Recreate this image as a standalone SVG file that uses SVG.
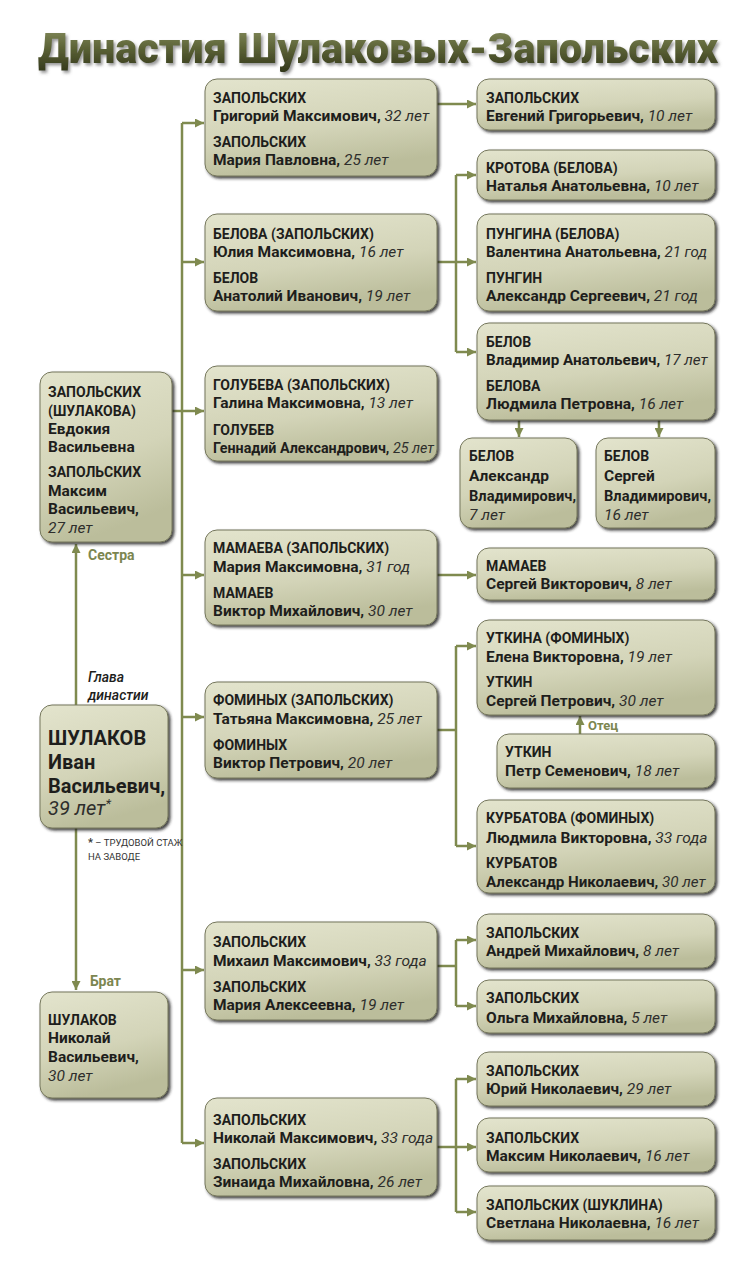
<svg xmlns="http://www.w3.org/2000/svg" width="750" height="1276" viewBox="0 0 750 1276">
<defs>
<linearGradient id="ng" x1="0" y1="0" x2="0.3" y2="1">
<stop offset="0" stop-color="#e3e4cd"/>
<stop offset="0.6" stop-color="#d3d4b8"/>
<stop offset="1" stop-color="#bbbd9b"/>
</linearGradient>
<linearGradient id="tg" x1="0" y1="0" x2="0" y2="1">
<stop offset="0" stop-color="#8d9465"/>
<stop offset="0.5" stop-color="#5b6236"/>
<stop offset="1" stop-color="#2f3418"/>
</linearGradient>
<filter id="sh" x="-10%" y="-10%" width="125%" height="130%">
<feDropShadow dx="2" dy="2" stdDeviation="1.6" flood-color="#23231a" flood-opacity="0.85"/>
</filter>
<filter id="tsh" x="-5%" y="-20%" width="110%" height="150%">
<feDropShadow dx="2" dy="2" stdDeviation="1.5" flood-color="#555" flood-opacity="0.6"/>
</filter>
<marker id="arr" viewBox="0 0 10 10" refX="10" refY="5" markerWidth="11" markerHeight="9" orient="auto" markerUnits="userSpaceOnUse">
<path d="M0,0 L10,5 L0,10 z" fill="#7f8a4f"/>
</marker>
<style>
.box{fill:url(#ng);stroke:#75775c;stroke-width:1;filter:url(#sh)}
.t{font-family:Roboto,"Noto Sans",sans-serif;font-size:15.5px;font-weight:700;fill:#1e1e1c}
.u{font-size:14px}
.b{font-size:20px}
.a{font-style:italic;font-weight:400;fill:#2e2e2c}
.c{fill:none;stroke:#7f8a4f;stroke-width:2.5}
.ca{fill:none;stroke:#7f8a4f;stroke-width:2.5;marker-end:url(#arr)}
.lb{font-family:Roboto,"Noto Sans",sans-serif;font-size:14px;font-weight:700;fill:#7c8650}
.gl{font-family:Roboto,"Noto Sans",sans-serif;font-size:14px;font-weight:500;font-style:italic;fill:#1e1e1c}
.fn{font-family:Roboto,"Noto Sans",sans-serif;font-size:9.5px;fill:#333}
</style>
</defs>
<rect width="750" height="1276" fill="#ffffff"/>
<text transform="translate(378,63) scale(1,1.2)" x="0" y="0" text-anchor="middle" font-family="Roboto,'Noto Sans',sans-serif" font-size="36" font-weight="900" fill="url(#tg)" filter="url(#tsh)" textLength="680" lengthAdjust="spacingAndGlyphs">Династия Шулаковых-Запольских</text>

<g id="connectors">
<path class="c" d="M182,123 V1143"/>
<path class="ca" d="M182,123 H204"/>
<path class="ca" d="M182,262 H204"/>
<path class="ca" d="M172,411 H204"/>
<path class="ca" d="M182,575 H204"/>
<path class="ca" d="M182,717 H204"/>
<path class="ca" d="M182,970 H204"/>
<path class="ca" d="M182,1143 H204"/>
<path class="ca" d="M76,705 V544"/>
<path class="ca" d="M76,828 V990"/>
<path class="ca" d="M437,104 H476"/>
<path class="c" d="M437,262 H456 M456,175 V352"/>
<path class="ca" d="M456,175 H476"/>
<path class="ca" d="M456,262 H476"/>
<path class="ca" d="M456,352 H476"/>
<path class="ca" d="M519,420 V437"/>
<path class="ca" d="M659,420 V437"/>
<path class="ca" d="M437,575 H476"/>
<path class="c" d="M437,730 H456 M456,646 V846"/>
<path class="ca" d="M456,646 H476"/>
<path class="ca" d="M456,846 H476"/>
<path class="ca" d="M580,734 V716"/>
<path class="c" d="M437,966 H456 M456,940 V1006"/>
<path class="ca" d="M456,940 H476"/>
<path class="ca" d="M456,1006 H476"/>
<path class="c" d="M437,1147 H456 M456,1079 V1212"/>
<path class="ca" d="M456,1079 H476"/>
<path class="ca" d="M456,1147 H476"/>
<path class="ca" d="M456,1212 H476"/>
</g>

<g id="labels">
<text class="lb" x="88" y="560">Сестра</text>
<text class="lb" x="90" y="986">Брат</text>
<text class="lb" x="588" y="730" style="font-size:13px">Отец</text>
<text class="gl" x="88" y="682">Глава</text>
<text class="gl" x="88" y="700">династии</text>
<text class="fn" x="88" y="846"><tspan style="font-weight:700;font-size:11px">*</tspan> – ТРУДОВОЙ СТАЖ</text>
<text class="fn" x="88" y="860">НА ЗАВОДЕ</text>
</g>

<g id="n-evdokia">
<rect class="box" x="40" y="372" width="132" height="170" rx="12"/>
<text class="t u" x="48" y="397">ЗАПОЛЬСКИХ</text>
<text class="t u" x="48" y="416">(ШУЛАКОВА)</text>
<text class="t" x="48" y="434">Евдокия</text>
<text class="t" x="48" y="452">Васильевна</text>
<text class="t u" x="48" y="477">ЗАПОЛЬСКИХ</text>
<text class="t" x="48" y="496">Максим</text>
<text class="t" x="48" y="514">Васильевич,</text>
<text class="t a" x="48" y="533">27 лет</text>
</g>

<g id="n-ivan">
<rect class="box" x="40" y="705" width="128" height="123" rx="12"/>
<text class="t b" x="48" y="745">ШУЛАКОВ</text>
<text class="t b" x="48" y="769">Иван</text>
<text class="t b" x="48" y="793">Васильевич,</text>
<text class="t b a" x="48" y="815">39 лет<tspan dy="-7" style="font-size:13px">*</tspan></text>
</g>

<g id="n-nikolay-sh">
<rect class="box" x="40" y="992" width="128" height="106" rx="12"/>
<text class="t u" x="48" y="1025">ШУЛАКОВ</text>
<text class="t" x="48" y="1043">Николай</text>
<text class="t" x="48" y="1062">Васильевич,</text>
<text class="t a" x="48" y="1081">30 лет</text>
</g>

<g id="n-grigoriy">
<rect class="box" x="205" y="79" width="232" height="97" rx="12"/>
<text class="t u" x="213" y="103">ЗАПОЛЬСКИХ</text>
<text class="t" x="213" y="121">Григорий Максимович, <tspan class="a">32 лет</tspan></text>
<text class="t u" x="213" y="147">ЗАПОЛЬСКИХ</text>
<text class="t" x="213" y="165">Мария Павловна, <tspan class="a">25 лет</tspan></text>
</g>

<g id="n-yulia">
<rect class="box" x="205" y="214" width="232" height="97" rx="12"/>
<text class="t u" x="213" y="239">БЕЛОВА (ЗАПОЛЬСКИХ)</text>
<text class="t" x="213" y="257">Юлия Максимовна, <tspan class="a">16 лет</tspan></text>
<text class="t u" x="213" y="283">БЕЛОВ</text>
<text class="t" x="213" y="301">Анатолий Иванович, <tspan class="a">19 лет</tspan></text>
</g>

<g id="n-galina">
<rect class="box" x="205" y="366" width="232" height="95" rx="12"/>
<text class="t u" x="213" y="390">ГОЛУБЕВА (ЗАПОЛЬСКИХ)</text>
<text class="t" x="213" y="408">Галина Максимовна, <tspan class="a">13 лет</tspan></text>
<text class="t u" x="213" y="435">ГОЛУБЕВ</text>
<text class="t" x="213" y="453" style="font-size:14.3px">Геннадий Александрович, <tspan class="a">25 лет</tspan></text>
</g>

<g id="n-mamaeva">
<rect class="box" x="205" y="530" width="232" height="95" rx="12"/>
<text class="t u" x="213" y="553">МАМАЕВА (ЗАПОЛЬСКИХ)</text>
<text class="t" x="213" y="572">Мария Максимовна, <tspan class="a">31 год</tspan></text>
<text class="t u" x="213" y="598">МАМАЕВ</text>
<text class="t" x="213" y="616">Виктор Михайлович, <tspan class="a">30 лет</tspan></text>
</g>

<g id="n-fominykh">
<rect class="box" x="205" y="682" width="232" height="96" rx="12"/>
<text class="t u" x="213" y="705">ФОМИНЫХ (ЗАПОЛЬСКИХ)</text>
<text class="t" x="213" y="724">Татьяна Максимовна, <tspan class="a">25 лет</tspan></text>
<text class="t u" x="213" y="750">ФОМИНЫХ</text>
<text class="t" x="213" y="768">Виктор Петрович, <tspan class="a">20 лет</tspan></text>
</g>

<g id="n-mikhail">
<rect class="box" x="205" y="922" width="232" height="98" rx="12"/>
<text class="t u" x="213" y="947">ЗАПОЛЬСКИХ</text>
<text class="t" x="213" y="966">Михаил Максимович, <tspan class="a">33 года</tspan></text>
<text class="t u" x="213" y="992">ЗАПОЛЬСКИХ</text>
<text class="t" x="213" y="1010">Мария Алексеевна, <tspan class="a">19 лет</tspan></text>
</g>

<g id="n-nikolay-z">
<rect class="box" x="205" y="1098" width="232" height="98" rx="12"/>
<text class="t u" x="213" y="1125">ЗАПОЛЬСКИХ</text>
<text class="t" x="213" y="1143">Николай Максимович, <tspan class="a">33 года</tspan></text>
<text class="t u" x="213" y="1169">ЗАПОЛЬСКИХ</text>
<text class="t" x="213" y="1187">Зинаида Михайловна, <tspan class="a">26 лет</tspan></text>
</g>

<g id="n-evgeniy">
<rect class="box" x="477" y="79" width="238" height="51" rx="12"/>
<text class="t u" x="486" y="103">ЗАПОЛЬСКИХ</text>
<text class="t" x="486" y="121">Евгений Григорьевич, <tspan class="a">10 лет</tspan></text>
</g>

<g id="n-krotova">
<rect class="box" x="477" y="150" width="238" height="50" rx="12"/>
<text class="t u" x="486" y="173">КРОТОВА (БЕЛОВА)</text>
<text class="t" x="486" y="191">Наталья Анатольевна, <tspan class="a">10 лет</tspan></text>
</g>

<g id="n-pungina">
<rect class="box" x="477" y="214" width="238" height="97" rx="12"/>
<text class="t u" x="486" y="239">ПУНГИНА (БЕЛОВА)</text>
<text class="t" x="486" y="257" style="font-size:15px">Валентина Анатольевна, <tspan class="a">21 год</tspan></text>
<text class="t u" x="486" y="283">ПУНГИН</text>
<text class="t" x="486" y="301">Александр Сергеевич, <tspan class="a">21 год</tspan></text>
</g>

<g id="n-vladimir">
<rect class="box" x="477" y="323" width="238" height="97" rx="12"/>
<text class="t u" x="486" y="347">БЕЛОВ</text>
<text class="t" x="486" y="365" style="font-size:15.2px">Владимир Анатольевич, <tspan class="a">17 лет</tspan></text>
<text class="t u" x="486" y="391">БЕЛОВА</text>
<text class="t" x="486" y="409">Людмила Петровна, <tspan class="a">16 лет</tspan></text>
</g>

<g id="n-aleksandr-b">
<rect class="box" x="460" y="438" width="117" height="90" rx="12"/>
<text class="t u" x="469" y="461">БЕЛОВ</text>
<text class="t" x="469" y="481">Александр</text>
<text class="t" x="469" y="501" textLength="107" lengthAdjust="spacingAndGlyphs">Владимирович,</text>
<text class="t a" x="469" y="520">7 лет</text>
</g>

<g id="n-sergey-b">
<rect class="box" x="596" y="438" width="119" height="90" rx="12"/>
<text class="t u" x="604" y="461">БЕЛОВ</text>
<text class="t" x="604" y="481">Сергей</text>
<text class="t" x="604" y="501" textLength="107" lengthAdjust="spacingAndGlyphs">Владимирович,</text>
<text class="t a" x="604" y="520">16 лет</text>
</g>

<g id="n-mamaev-s">
<rect class="box" x="477" y="548" width="238" height="52" rx="12"/>
<text class="t u" x="486" y="571">МАМАЕВ</text>
<text class="t" x="486" y="589">Сергей Викторович, <tspan class="a">8 лет</tspan></text>
</g>

<g id="n-utkina">
<rect class="box" x="477" y="620" width="238" height="95" rx="12"/>
<text class="t u" x="486" y="643">УТКИНА (ФОМИНЫХ)</text>
<text class="t" x="486" y="662">Елена Викторовна, <tspan class="a">19 лет</tspan></text>
<text class="t u" x="486" y="687">УТКИН</text>
<text class="t" x="486" y="706">Сергей Петрович, <tspan class="a">30 лет</tspan></text>
</g>

<g id="n-utkin-p">
<rect class="box" x="497" y="734" width="218" height="54" rx="12"/>
<text class="t u" x="505" y="757">УТКИН</text>
<text class="t" x="505" y="776">Петр Семенович, <tspan class="a">18 лет</tspan></text>
</g>

<g id="n-kurbatova">
<rect class="box" x="477" y="800" width="238" height="93" rx="12"/>
<text class="t u" x="486" y="823">КУРБАТОВА (ФОМИНЫХ)</text>
<text class="t" x="486" y="843">Людмила Викторовна, <tspan class="a">33 года</tspan></text>
<text class="t u" x="486" y="868">КУРБАТОВ</text>
<text class="t" x="486" y="887" style="font-size:15.2px">Александр Николаевич, <tspan class="a">30 лет</tspan></text>
</g>

<g id="n-andrey">
<rect class="box" x="477" y="914" width="238" height="54" rx="12"/>
<text class="t u" x="486" y="938">ЗАПОЛЬСКИХ</text>
<text class="t" x="486" y="956">Андрей Михайлович, <tspan class="a">8 лет</tspan></text>
</g>

<g id="n-olga">
<rect class="box" x="477" y="980" width="238" height="53" rx="12"/>
<text class="t u" x="486" y="1003">ЗАПОЛЬСКИХ</text>
<text class="t" x="486" y="1023">Ольга Михайловна, <tspan class="a">5 лет</tspan></text>
</g>

<g id="n-yuriy">
<rect class="box" x="477" y="1052" width="238" height="54" rx="12"/>
<text class="t u" x="486" y="1076">ЗАПОЛЬСКИХ</text>
<text class="t" x="486" y="1094">Юрий Николаевич, <tspan class="a">29 лет</tspan></text>
</g>

<g id="n-maksim">
<rect class="box" x="477" y="1118" width="238" height="54" rx="12"/>
<text class="t u" x="486" y="1143">ЗАПОЛЬСКИХ</text>
<text class="t" x="486" y="1161">Максим Николаевич, <tspan class="a">16 лет</tspan></text>
</g>

<g id="n-svetlana">
<rect class="box" x="477" y="1186" width="238" height="54" rx="12"/>
<text class="t u" x="486" y="1210">ЗАПОЛЬСКИХ (ШУКЛИНА)</text>
<text class="t" x="486" y="1228">Светлана Николаевна, <tspan class="a">16 лет</tspan></text>
</g>
</svg>
